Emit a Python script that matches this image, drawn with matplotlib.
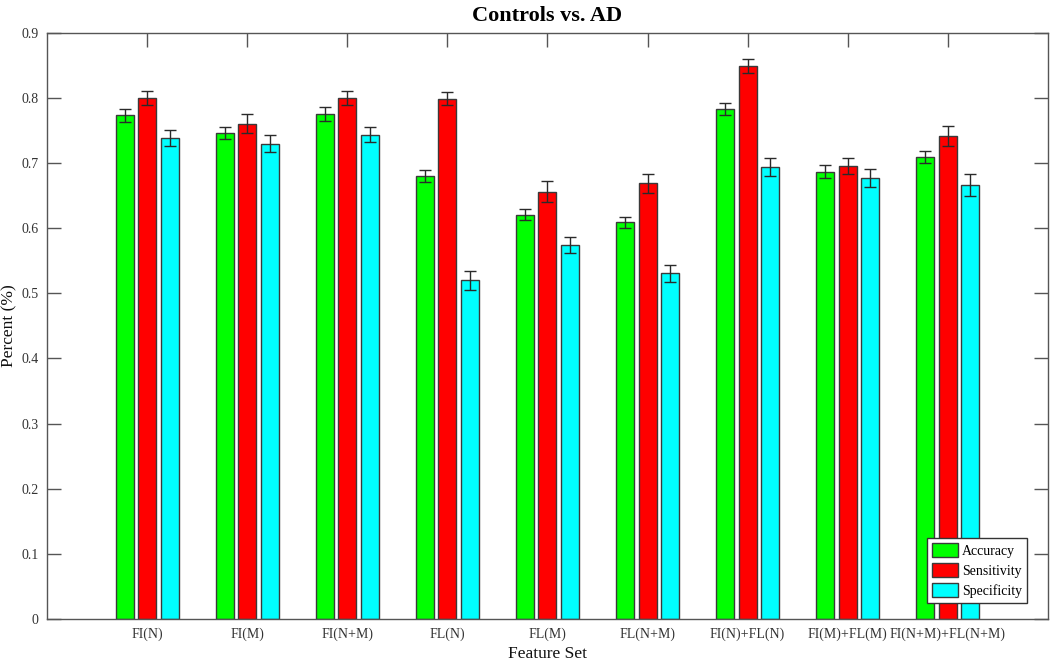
import matplotlib
matplotlib.use("Agg")
import matplotlib.pyplot as plt
import numpy as np

categories = ["FI(N)", "FI(M)", "FI(N+M)", "FL(N)", "FL(M)", "FL(N+M)",
              "FI(N)+FL(N)", "FI(M)+FL(M)", "FI(N+M)+FL(N+M)"]
accuracy = [0.774, 0.747, 0.776, 0.680, 0.621, 0.609, 0.783, 0.687, 0.710]
accuracy_err = [0.010, 0.009, 0.011, 0.009, 0.008, 0.008, 0.009, 0.010, 0.009]
sensitivity = [0.800, 0.761, 0.800, 0.799, 0.656, 0.669, 0.849, 0.696, 0.742]
sensitivity_err = [0.011, 0.014, 0.011, 0.010, 0.016, 0.015, 0.011, 0.012, 0.015]
specificity = [0.739, 0.730, 0.744, 0.520, 0.574, 0.531, 0.694, 0.677, 0.667]
specificity_err = [0.012, 0.013, 0.012, 0.015, 0.012, 0.013, 0.014, 0.014, 0.017]
series_names = ["Accuracy", "Sensitivity", "Specificity"]
yticks = [0, 0.1, 0.2, 0.3, 0.4, 0.5, 0.6, 0.7, 0.8, 0.9]

plt.rcParams['font.family'] = ['Liberation Serif', 'DejaVu Serif']

fig = plt.figure(figsize=(10.5, 6.62), dpi=100)
ax = fig.add_axes([0.0448, 0.0654, 0.9532, 0.8846])

x = np.arange(1, len(categories) + 1)
width = 0.18
offsets = [-0.225, 0.0, 0.225]
colors = ["#00ff00", "#ff0000", "#00ffff"]
vals = [accuracy, sensitivity, specificity]
errs = [accuracy_err, sensitivity_err, specificity_err]
edge = "#3a3a3a"

for off, v, e, c, name in zip(offsets, vals, errs, colors, series_names):
    ax.bar(x + off, v, width=width, color=c, edgecolor=edge, linewidth=1.0,
           label=name, zorder=2)
    ax.errorbar(x + off, v, yerr=e, fmt='none', ecolor="#2a2a2a",
                elinewidth=1.0, capsize=4.3, capthick=1.0, zorder=3)

ax.set_xlim(0, 10)
ax.set_ylim(0, 0.9)
ax.set_xticks(x)
ax.set_xticklabels(categories)
ax.set_yticks(yticks)
ax.set_yticklabels([f"{t:g}" for t in yticks])

for s in ax.spines.values():
    s.set_color("#555555")
    s.set_linewidth(1.0)
ax.tick_params(direction='in', length=10, width=1, color="#555555",
               top=True, right=True, labelsize=10, labelcolor="#333333", pad=6)
ax.tick_params(axis='x', pad=6)

ax.set_title("Controls vs. AD", fontsize=16, fontweight='bold', pad=9)
ax.set_xlabel("Feature Set", fontsize=12.5, labelpad=4, color="#111111")
ax.set_ylabel("Percent (%)", fontsize=12.5, labelpad=3, color="#111111")

leg = ax.legend(loc='lower right', bbox_to_anchor=(0.979, 0.027),
                fontsize=10, fancybox=False, framealpha=1,
                edgecolor="#333333", handlelength=1.9, handleheight=1.15,
                borderpad=0.35, labelspacing=0.4, handletextpad=0.25,
                borderaxespad=0)
leg.get_frame().set_linewidth(1.0)

fig.savefig("out.png", dpi=100)
